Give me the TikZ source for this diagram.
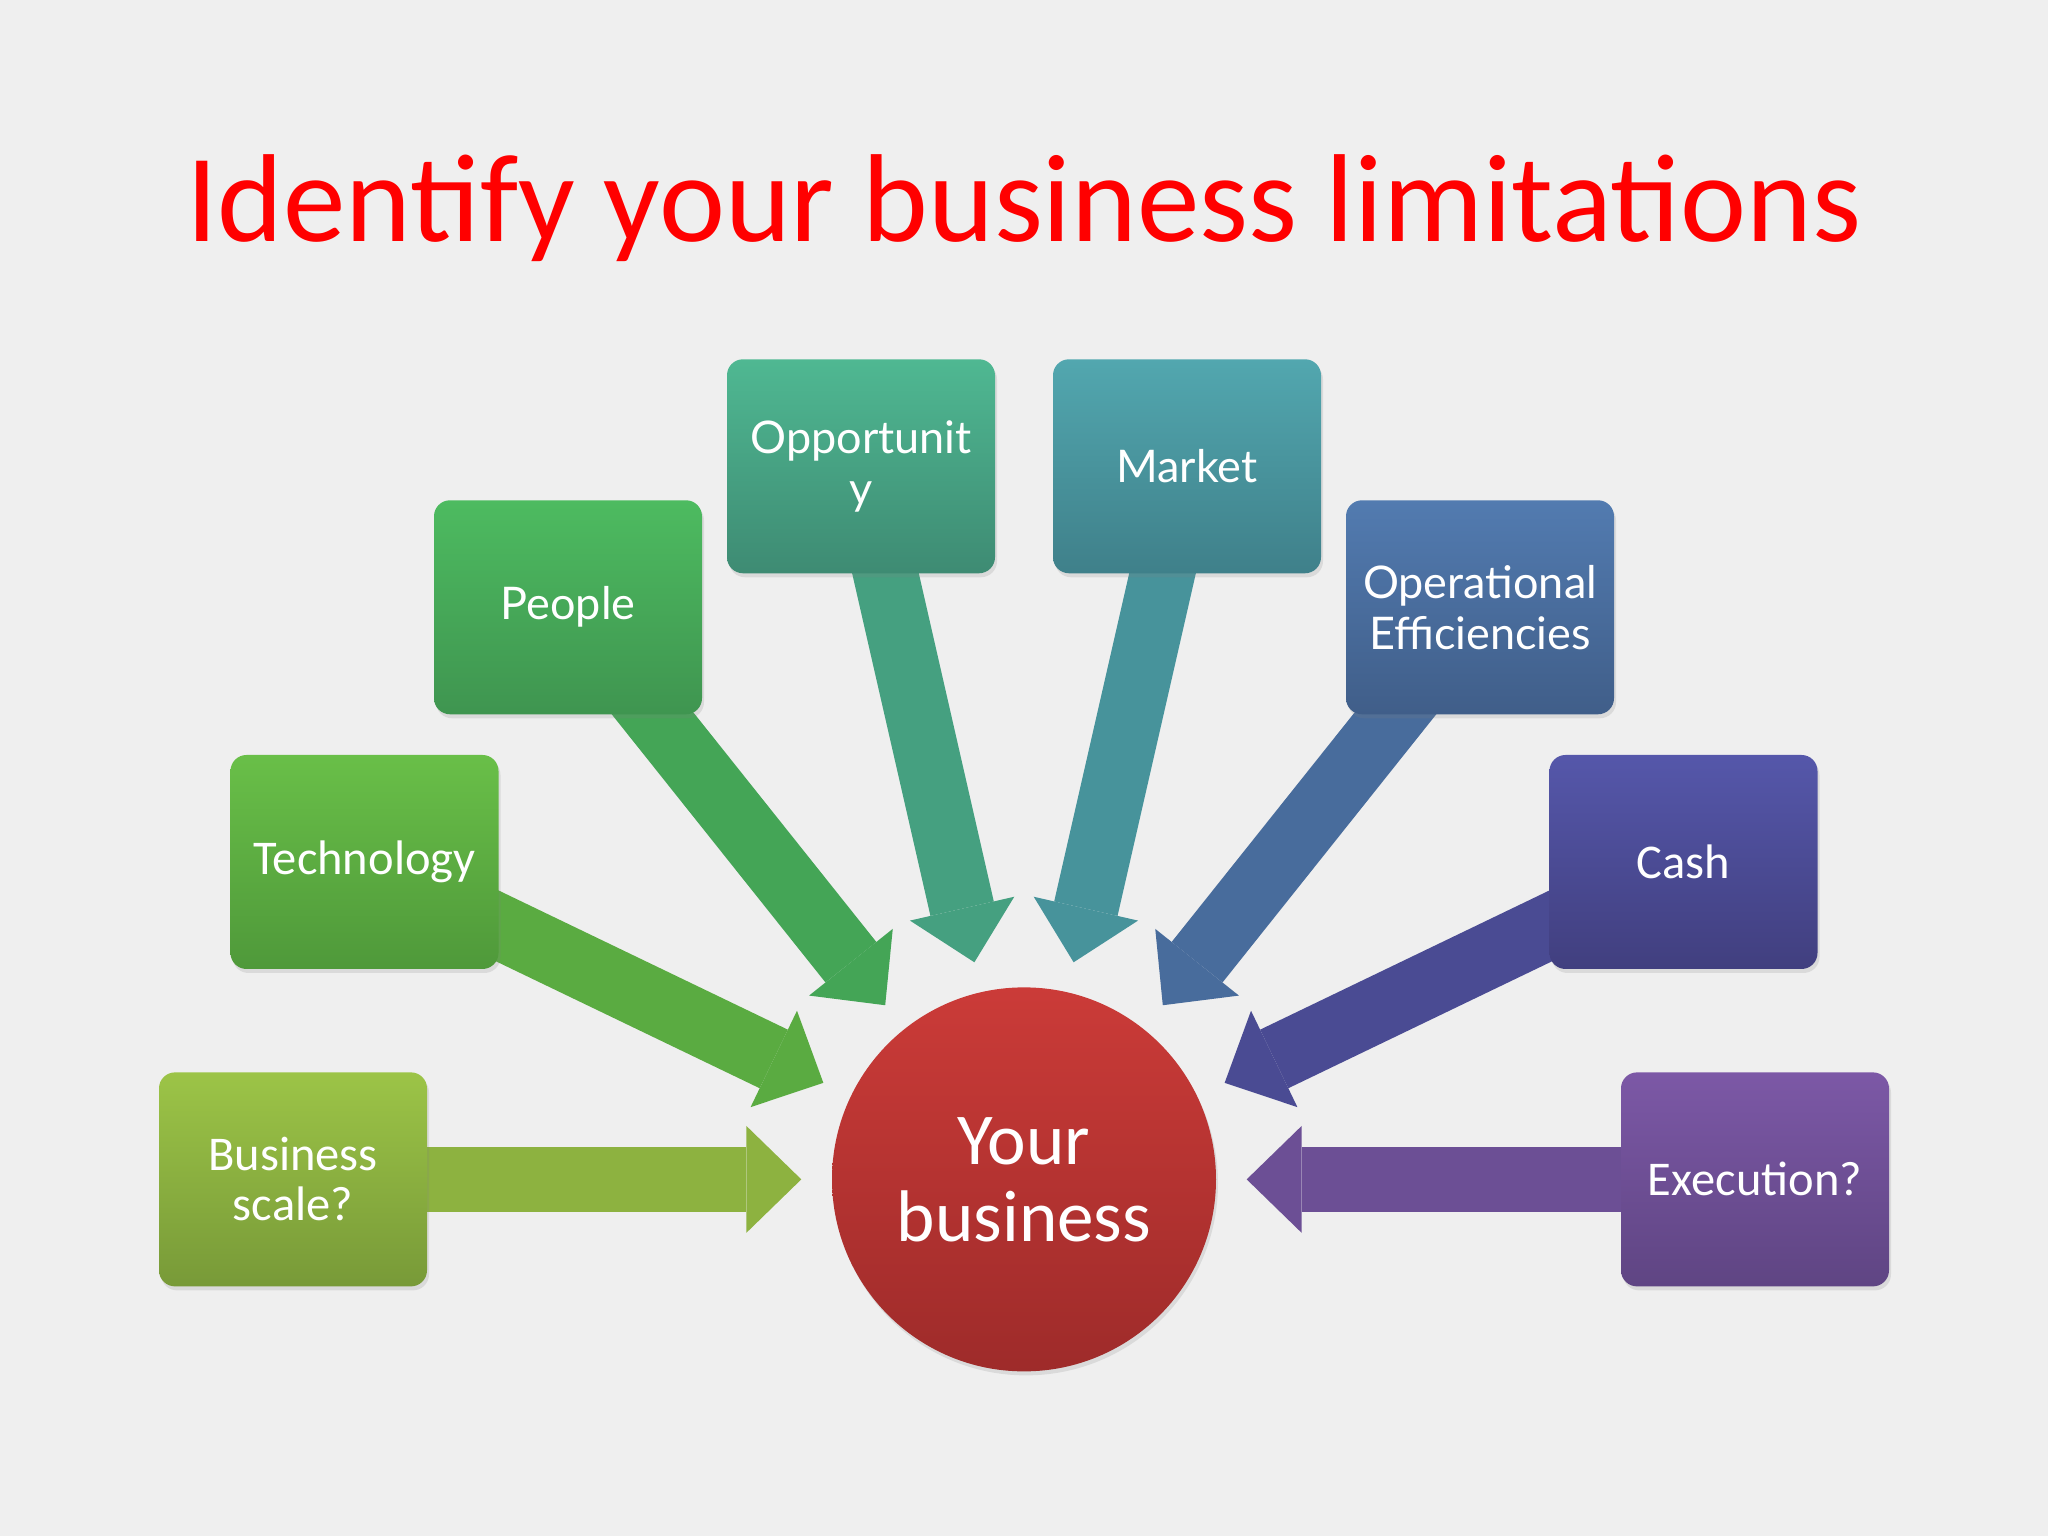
\documentclass[tikz,border=0pt]{standalone}
\usepackage{fontspec}
\setmainfont{Carlito}
\newfontfamily\latofont{Lato}
\usepackage{tikz}
\usetikzlibrary{arrows.meta,shadows}

\definecolor{paper}{HTML}{EFEFEF}
\definecolor{titlered}{HTML}{FF0000}
\definecolor{scaleA}{HTML}{9CC447}\definecolor{scaleB}{HTML}{789A38}\definecolor{scaleC}{HTML}{8DB240}
\definecolor{techA}{HTML}{69BF48}\definecolor{techB}{HTML}{4F993A}\definecolor{techC}{HTML}{5AAB41}
\definecolor{peopleA}{HTML}{4DBB60}\definecolor{peopleB}{HTML}{3F9550}\definecolor{peopleC}{HTML}{44A556}
\definecolor{oppA}{HTML}{4FB892}\definecolor{oppB}{HTML}{3E8B73}\definecolor{oppC}{HTML}{45A080}
\definecolor{marketA}{HTML}{52A7AF}\definecolor{marketB}{HTML}{3F808A}\definecolor{marketC}{HTML}{47939B}
\definecolor{opsA}{HTML}{527BB0}\definecolor{opsB}{HTML}{405E89}\definecolor{opsC}{HTML}{486C9C}
\definecolor{cashA}{HTML}{5557AA}\definecolor{cashB}{HTML}{413F7F}\definecolor{cashC}{HTML}{4A4B93}
\definecolor{execA}{HTML}{7C58A6}\definecolor{execB}{HTML}{5F4583}\definecolor{execC}{HTML}{6C4F95}
\definecolor{hubA}{HTML}{CB3B38}\definecolor{hubB}{HTML}{9E2B2A}

\pgfdeclarelayer{paperlayer}
\pgfdeclarelayer{arrowlayer}
\pgfsetlayers{paperlayer,arrowlayer,main}

\begin{document}
\begin{tikzpicture}[
  limit/.style 2 args={rectangle, rounded corners=0.16cm, minimum width=2.68cm,
    minimum height=2.14cm, top color=#1, bottom color=#2, text=white, align=center,
    font=\fontsize{13.8}{14.2}\selectfont,
    drop shadow={shadow xshift=0.02cm, shadow yshift=-0.04cm, opacity=0.18}},
  latotext/.style={font=\latofont\fontsize{12.8}{14.6}\selectfont},
  hubnode/.style={circle, minimum size=3.84cm, inner sep=0pt, top color=hubA,
    bottom color=hubB, text=white, align=center, font=\fontsize{20.8}{21.9}\selectfont,
    drop shadow={shadow xshift=0.02cm, shadow yshift=-0.04cm, opacity=0.18}},
  feed/.style={draw=#1, line width=0.65cm, shorten >=0.3cm,
    -{Triangle[width=1.07cm, length=0.55cm, line width=0pt, fill=#1]}}
]
\begin{pgfonlayer}{paperlayer}
\fill[paper] (0,0) rectangle (20.48,15.36);
\end{pgfonlayer}

% title
\node[text=titlered, font=\fontsize{35.6}{40}\selectfont, anchor=base] (title) at (10.24,12.94) {Identify your business limitations};

% centre
\node[hubnode] (hub) at (10.24,3.566) {Your\\business};

% limitations
\node[limit={scaleA}{scaleB}] (scale) at (2.93,3.566) {Business\\scale?};
\node[limit={techA}{techB}] (tech) at (3.645,6.74) {Technology};
\node[limit={peopleA}{peopleB}, latotext] (people) at (5.68,9.287) {People};
\node[limit={oppA}{oppB}, latotext] (opp) at (8.61,10.697) {Opportunit\\y};
\node[limit={marketA}{marketB}, latotext] (market) at (11.87,10.697) {Market};
\node[limit={opsA}{opsB}, latotext] (ops) at (14.80,9.287) {Operational\\Efficiencies};
\node[limit={cashA}{cashB}] (cash) at (16.835,6.74) {Cash};
\node[limit={execA}{execB}] (exec) at (17.55,3.566) {Execution?};

% arrows into the centre
\begin{pgfonlayer}{arrowlayer}
\draw[feed=scaleC] (scale.center) -- (hub);
\draw[feed=techC] (tech.center) -- (hub);
\draw[feed=peopleC] (people.center) -- (hub);
\draw[feed=oppC] (opp.center) -- (hub);
\draw[feed=marketC] (market.center) -- (hub);
\draw[feed=opsC] (ops.center) -- (hub);
\draw[feed=cashC] (cash.center) -- (hub);
\draw[feed=execC] (exec.center) -- (hub);
\end{pgfonlayer}
\end{tikzpicture}
\end{document}
